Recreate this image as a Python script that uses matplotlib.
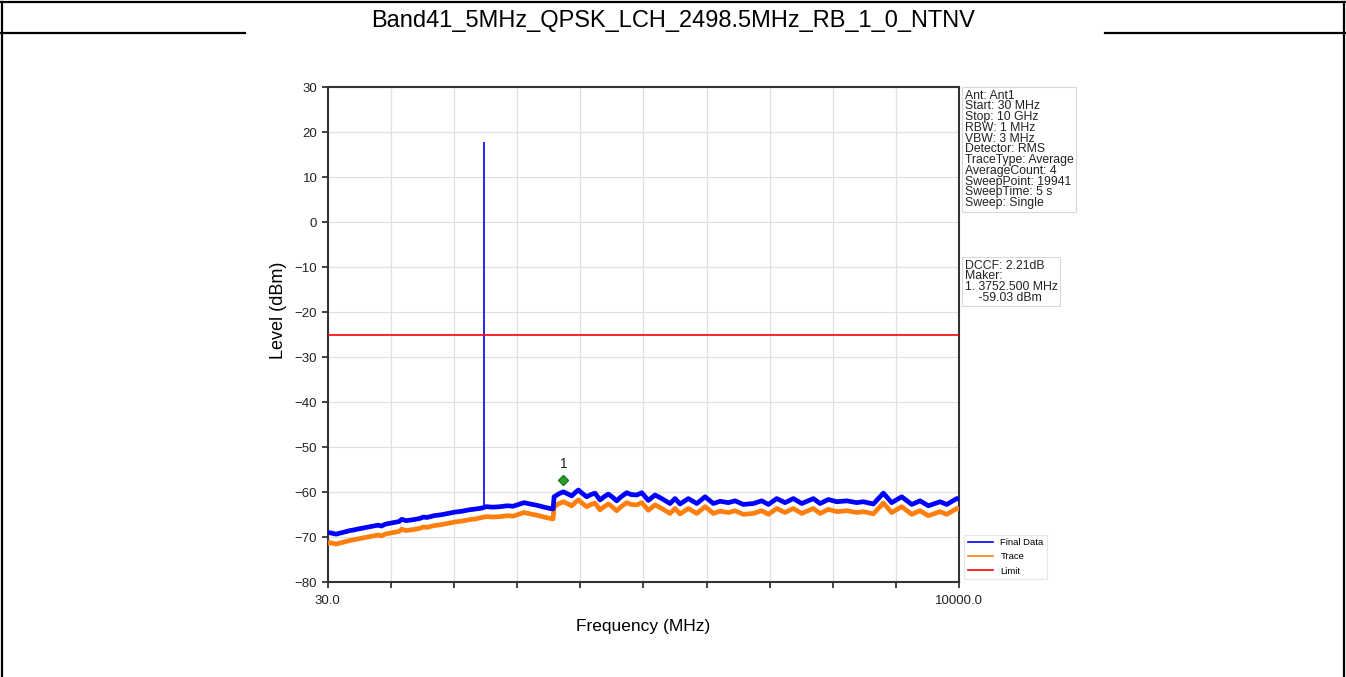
import matplotlib
matplotlib.use("Agg")
import matplotlib.pyplot as plt
from matplotlib.lines import Line2D
from matplotlib import transforms

plt.rcParams['font.family'] = ['Liberation Sans', 'DejaVu Sans']

# Chart data
title = "Band41_5MHz_QPSK_LCH_2498.5MHz_RB_1_0_NTNV"

freq_mhz = [30, 66, 161, 272, 330, 382, 430, 493, 603, 714, 824, 880, 935, 1045, 1156,
            1200, 1266, 1377, 1488, 1540, 1598, 1709, 1819, 1930, 2040, 2151, 2262,
            2372, 2467, 2530, 2640, 2751, 2862, 2956, 3067, 3130, 3225, 3336, 3446,
            3541, 3589, 3605, 3684, 3752, 3825, 3883, 3936, 3988, 4046, 4120, 4188,
            4251, 4330, 4393, 4462, 4520, 4594, 4662, 4752, 4820, 4910, 4989, 5093,
            5199, 5305, 5436, 5515, 5594, 5725, 5858, 5989, 6120, 6226, 6357, 6463,
            6594, 6752, 6884, 6989, 7121, 7252, 7383, 7516, 7699, 7805, 7936, 8069,
            8227, 8384, 8489, 8647, 8805, 8937, 9095, 9253, 9384, 9516, 9700, 9806,
            9964, 10000]

final_data = [-69.0, -69.0, -69.3, -68.9, -68.7, -68.5, -68.4, -68.2, -67.9, -67.6,
              -67.3, -67.5, -67.1, -66.8, -66.5, -66.0, -66.3, -66.1, -65.8, -65.5,
              -65.6, -65.2, -65.0, -64.7, -64.4, -64.2, -63.9, -63.7, -63.5, -63.2,
              -63.3, -63.2, -63.0, -63.1, -62.6, -62.3, -62.6, -62.9, -63.3, -63.6,
              -63.7, -61.0, -60.3, -59.9, -60.4, -60.8, -60.1, -59.5, -60.2, -61.0,
              -60.5, -60.2, -61.7, -61.0, -60.4, -61.0, -61.9, -61.0, -60.1, -60.5,
              -60.6, -60.1, -61.8, -60.6, -61.4, -62.5, -61.4, -62.6, -61.4, -62.5,
              -61.0, -62.5, -62.0, -62.3, -61.9, -62.7, -62.5, -61.9, -62.7, -61.4,
              -62.3, -61.4, -62.5, -61.4, -62.5, -61.6, -62.1, -61.9, -62.3, -62.1,
              -62.6, -60.2, -62.3, -61.0, -62.7, -61.9, -63.0, -62.1, -62.7, -61.4,
              -61.5]

trace = [-71.3, -71.2, -71.5, -71.1, -70.9, -70.7, -70.6, -70.4, -70.1, -69.8,
         -69.5, -69.7, -69.3, -69.0, -68.7, -68.2, -68.5, -68.3, -68.0, -67.7,
         -67.8, -67.4, -67.2, -66.9, -66.6, -66.4, -66.1, -65.9, -65.6, -65.4,
         -65.5, -65.4, -65.2, -65.3, -64.8, -64.5, -64.8, -65.1, -65.5, -65.8,
         -65.9, -63.2, -62.5, -62.1, -62.6, -63.0, -62.3, -61.7, -62.4, -63.2,
         -62.7, -62.4, -63.9, -63.2, -62.6, -63.2, -64.1, -63.2, -62.3, -62.7,
         -62.8, -62.3, -64.0, -62.8, -63.6, -64.7, -63.6, -64.8, -63.6, -64.7,
         -63.2, -64.7, -64.2, -64.5, -64.1, -64.9, -64.7, -64.1, -64.9, -63.6,
         -64.5, -63.6, -64.7, -63.6, -64.7, -63.8, -64.3, -64.1, -64.5, -64.3,
         -64.8, -62.4, -64.5, -63.2, -64.9, -64.1, -65.2, -64.3, -64.9, -63.6,
         -63.7]

limit_level = -25.0
spike_freq = 2498.5
spike_base = -63.5
spike_peak = 17.8
marker_freq = 3752.5
marker_level = -59.03

info_text = ("Ant: Ant1\nStart: 30 MHz\nStop: 10 GHz\nRBW: 1 MHz\nVBW: 3 MHz\n"
             "Detector: RMS\nTraceType: Average\nAverageCount: 4\n"
             "SweepPoint: 19941\nSweepTime: 5 s\nSweep: Single")
marker_text = "DCCF: 2.21dB\nMaker:\n1. 3752.500 MHz\n    -59.03 dBm"

fig = plt.figure(figsize=(13.46, 6.77), dpi=100)

# table frame around the chart
frame_kw = dict(color='black', linewidth=1.6, transform=fig.transFigure)
fig.add_artist(Line2D([0.0, 1.0], [0.997, 0.997], **frame_kw))
fig.add_artist(Line2D([0.0015, 0.0015], [0.0, 0.997], **frame_kw))
fig.add_artist(Line2D([0.9985, 0.9985], [0.0, 0.997], **frame_kw))
fig.add_artist(Line2D([0.0, 0.182], [0.951, 0.951], **frame_kw))
fig.add_artist(Line2D([0.821, 1.0], [0.951, 0.951], **frame_kw))
fig.text(0.5, 0.969, title, ha='center', va='center', fontsize=17)

ax = fig.add_axes([0.2435, 0.1399, 0.469, 0.7312])

ax.plot(freq_mhz, trace, color='#ff7f0e', linewidth=3.4, label='Trace', zorder=3)
ax.plot(freq_mhz, final_data, color='#0000ff', linewidth=3.4, label='Final Data', zorder=4)
ax.vlines(spike_freq, spike_base, spike_peak, color='#0000ff', linewidth=1.2, zorder=4)
ax.axhline(limit_level, color='#ff0000', linewidth=1.2, label='Limit', zorder=5)

mk_tr = transforms.offset_copy(ax.transData, fig=fig, x=0, y=5.5, units='points')
ax.plot(marker_freq, marker_level, marker='D', color='#2ca02c', markersize=5.5,
        markeredgecolor='#1e7a1e', transform=mk_tr, zorder=6)
ax.annotate('1', (marker_freq, marker_level), xytext=(0, 12), textcoords='offset points',
            ha='center', va='bottom', fontsize=10, color='#222222')

ax.set_xlim(30, 10000)
ax.set_ylim(-80, 30)
step = (10000 - 30) / 10
ax.set_xticks([30 + i * step for i in range(11)])
ax.set_xticklabels(['30.0'] + [''] * 9 + ['10000.0'])
ax.set_yticks(range(-80, 31, 10))
ax.tick_params(axis='both', labelsize=9.5, length=4, width=1.2, direction='out',
               colors='#222222')
ax.tick_params(axis='x', pad=5)
ax.grid(True, color='#e0e0e0', linewidth=0.9)
ax.set_axisbelow(True)
for sp in ax.spines.values():
    sp.set_color('#333333')
    sp.set_linewidth(1.5)

ax.set_xlabel('Frequency (MHz)', fontsize=12.5, labelpad=9)
ax.set_ylabel('Level (dBm)', fontsize=13)
ax.yaxis.set_label_coords(-0.065, 0.55)

handles, labels = ax.get_legend_handles_labels()
order = [labels.index(n) for n in ['Final Data', 'Trace', 'Limit']]
leg = ax.legend([Line2D([], [], color=handles[i].get_color(), linewidth=1.2) for i in order],
                [labels[i] for i in order], loc='lower left', bbox_to_anchor=(1.004, 0.0),
                fontsize=6.8, frameon=True, fancybox=False, handlelength=2.6,
                borderaxespad=0.3, labelspacing=0.55)
leg.get_frame().set_edgecolor('#e0e0e0')
leg.get_frame().set_linewidth(0.8)

box = dict(facecolor='white', edgecolor='#d8d8d8', linewidth=0.8, boxstyle='square,pad=0.2')
ax.text(1.009, 0.995, info_text, transform=ax.transAxes, ha='left', va='top',
        fontsize=8.8, linespacing=0.86, color='#222222', bbox=box)
ax.text(1.009, 0.652, marker_text, transform=ax.transAxes, ha='left', va='top',
        fontsize=8.8, linespacing=0.86, color='#222222', bbox=box)

fig.savefig('out.png', dpi=100)
